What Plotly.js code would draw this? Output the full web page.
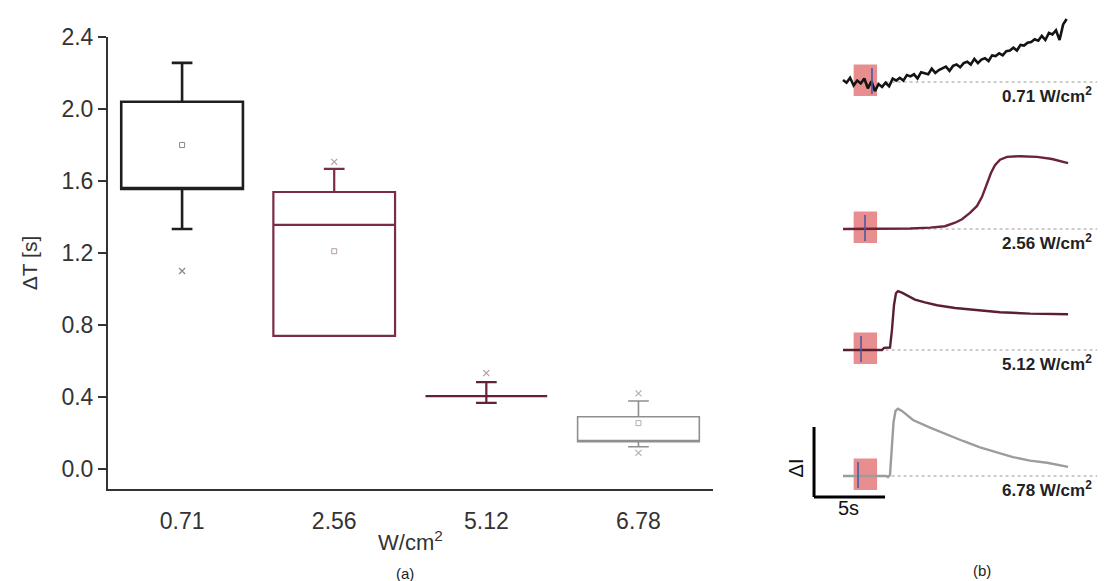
<!DOCTYPE html>
<html>
<head>
<meta charset="utf-8">
<script src="https://cdn.plot.ly/plotly-3.0.1.min.js"></script>
<style>
  html, body { margin: 0; padding: 0; background: #fff; }
  #chart { width: 1110px; height: 581px; }
</style>
</head>
<body>
<div id="chart"></div>
<script>
// ---- (a) response delay per irradiance (box statistics) ----
const categories   = ['0.71', '2.56', '5.12', '6.78'];
const q1           = [1.556, 0.740, 0.405, 0.152];
const medians      = [1.556, 1.356, 0.405, 0.152];
const q3           = [2.040, 1.539, 0.405, 0.290];
const lowerWhisker = [1.333, 0.748, 0.367, 0.124];
const upperWhisker = [2.256, 1.667, 0.483, 0.378];
const means        = [1.800, 1.210, null, 0.255];
const outlierCat   = ['0.71', '2.56', '5.12', '6.78', '6.78'];
const outlierVal   = [1.100, 1.706, 0.533, 0.420, 0.090];

// ---- (b) normalised photo-response traces (time in s, ΔI in scale-bar units) ----
const t1 = [0, 0.25, 0.5, 0.75, 1, 1.25, 1.5, 1.75, 2, 2.25, 2.5, 2.75, 3, 3.25, 3.5, 3.75,
            4, 4.25, 4.5, 4.75, 5, 5.25, 5.5, 5.75, 6, 6.25, 6.5, 6.75, 7, 7.25, 7.5, 7.75,
            8, 8.25, 8.5, 8.75, 9, 9.25, 9.5, 9.75, 10, 10.25, 10.5, 10.75, 11, 11.25, 11.5, 11.75,
            12, 12.25, 12.5, 12.75, 13, 13.25, 13.5, 13.75, 14, 14.25, 14.5, 14.75, 15, 15.25, 15.5, 15.75];
const v1 = [0.03, -0.01, 0.06, -0.05, 0.02, -0.02, 0.05, -0.09, 0.01, -0.13, -0.03, -0.07, -0.01, -0.06, 0.05, 0.02,
            0.06, 0.02, 0.10, 0.08, 0.11, 0.05, 0.14, 0.12, 0.11, 0.19, 0.13, 0.17, 0.20, 0.22, 0.16, 0.23,
            0.25, 0.21, 0.27, 0.29, 0.25, 0.33, 0.27, 0.32, 0.34, 0.30, 0.38, 0.37, 0.41, 0.38, 0.44, 0.45,
            0.49, 0.45, 0.53, 0.52, 0.56, 0.57, 0.61, 0.59, 0.66, 0.60, 0.70, 0.68, 0.74, 0.60, 0.82, 0.90];
const t2 = [0, 3.17, 4.72, 6.13, 7.18, 7.89, 8.38, 8.94, 9.44, 9.79, 10.14, 10.42, 10.70, 11.06, 11.55, 12.46, 13.66, 14.72, 15.85];
const v2 = [0, 0, 0.007, 0.02, 0.04, 0.09, 0.14, 0.23, 0.33, 0.46, 0.64, 0.80, 0.91, 0.99, 1.03, 1.04, 1.03, 1.00, 0.94];
const t3 = [0, 2.75, 2.89, 3.31, 3.45, 3.59, 3.73, 3.87, 4.15, 4.58, 5.07, 5.77, 6.62, 7.89, 9.30, 11.06, 13.17, 15.85];
const v3 = [0, 0, 0.03, 0.035, 0.29, 0.64, 0.81, 0.84, 0.82, 0.77, 0.72, 0.68, 0.64, 0.60, 0.57, 0.54, 0.52, 0.51];
const t4 = [0, 3.03, 3.17, 3.31, 3.45, 3.56, 3.70, 3.87, 4.15, 4.93, 6.13, 7.32, 8.45, 9.65, 10.85, 11.97, 13.17, 14.37, 15.85];
const v4 = [0, 0, -0.014, 0.014, 0.44, 0.77, 0.93, 0.96, 0.93, 0.80, 0.69, 0.59, 0.50, 0.41, 0.34, 0.27, 0.22, 0.19, 0.13];
const stimWindow = [0.75, 2.4];          // illumination window, s
const stimMark   = [2.04, 1.55, 1.27, 1.06];
const scaleBarSeconds = 5;

const boxColors   = ['#1e1e1e', '#7a2b45', '#652236', '#8f8f8f'];
const boxWidths   = [2.6, 2.2, 2.2, 1.6];
const meanColors  = ['#8a8a8a', '#b79aa4', '#b79aa4', '#b0b0b0'];
const traceColors = ['#141414', '#6b2338', '#5a2031', '#9c9c9c'];

const FONT = 'Liberation Sans, Arial, sans-serif';
const data = [];

categories.forEach((c, i) => {
  data.push({
    type: 'box', x: [c], q1: [q1[i]], median: [medians[i]], q3: [q3[i]],
    lowerfence: [lowerWhisker[i]], upperfence: [upperWhisker[i]],
    width: 0.8, whiskerwidth: 0.17, boxpoints: false,
    line: {color: boxColors[i], width: boxWidths[i]},
    fillcolor: 'rgba(0,0,0,0)', showlegend: false, hoverinfo: 'skip',
    xaxis: 'x', yaxis: 'y'
  });
});

// mean markers
data.push({
  type: 'scatter', mode: 'markers', x: categories, y: means,
  marker: {symbol: 'square-open', size: 5, color: meanColors, line: {width: 1}},
  showlegend: false, hoverinfo: 'skip', xaxis: 'x', yaxis: 'y'
});
// outliers
const catIndex = c => categories.indexOf(c);
data.push({
  type: 'scatter', mode: 'markers', x: outlierCat, y: outlierVal,
  marker: {symbol: 'x-thin-open', size: 6,
           color: outlierCat.map(c => meanColors[catIndex(c)]),
           line: {width: 1.2, color: outlierCat.map(c => meanColors[catIndex(c)])}},
  showlegend: false, hoverinfo: 'skip', xaxis: 'x', yaxis: 'y'
});

// panel (b) traces, one stacked subplot each
const traceT = [t1, t2, t3, t4];
const traceV = [v1, v2, v3, v4];
const yNames = ['y2', 'y3', 'y4', 'y5'];
traceT.forEach((t, i) => {
  data.push({
    type: 'scatter', mode: 'lines', x: t, y: traceV[i],
    line: {color: traceColors[i], width: i === 0 ? 2.6 : 2.4},
    showlegend: false, hoverinfo: 'skip', xaxis: 'x2', yaxis: yNames[i]
  });
});

// layout geometry
const W = 1110, H = 581;
const panelBaselines = [82, 229, 350, 476];   // px of each trace's zero line
const pxPerUnit = 70, pxPerSec = 14.2, tZeroPx = 843;
const yRangeB = [-40 / pxPerUnit, 80 / pxPerUnit];

const shapes = [];
const annotations = [];
yNames.forEach((yn, i) => {
  // illumination window
  shapes.push({type: 'rect', xref: 'x2', yref: yn, layer: 'below',
    x0: stimWindow[0], x1: stimWindow[1], y0: -0.2, y1: 0.25,
    fillcolor: 'rgba(224,104,104,0.75)', line: {width: 0}});
  shapes.push({type: 'line', xref: 'x2', yref: yn, layer: 'above',
    x0: stimMark[i], x1: stimMark[i], y0: -0.17, y1: 0.2,
    line: {color: '#4b5aa6', width: 1.6}});
  // dotted baseline
  shapes.push({type: 'line', xref: 'x2', yref: yn, layer: 'below',
    x0: 3.0, x1: 17.9, y0: 0, y1: 0,
    line: {color: '#9a9a9a', width: 1, dash: 'dot'}});
  annotations.push({xref: 'x2', yref: yn, x: 17.65, y: -0.19,
    xanchor: 'right', yanchor: 'middle', showarrow: false,
    text: '<b>' + categories[i] + ' W/cm<sup>2</sup></b>',
    font: {family: FONT, size: 17, color: '#222'}});
});
// scale bar (5 s × 1 ΔI unit)
const sbX0 = -2.04, sbY0 = -0.30;
shapes.push({type: 'line', xref: 'x2', yref: 'y5', x0: sbX0, x1: sbX0, y0: sbY0, y1: sbY0 + 1,
  line: {color: '#000', width: 3}});
shapes.push({type: 'line', xref: 'x2', yref: 'y5', x0: sbX0, x1: sbX0 + scaleBarSeconds, y0: sbY0, y1: sbY0,
  line: {color: '#000', width: 3}});
annotations.push({xref: 'x2', yref: 'y5', x: -3.3, y: 0.11, textangle: -90, showarrow: false,
  text: 'ΔI', font: {family: FONT, size: 20, color: '#111'}});
annotations.push({xref: 'x2', yref: 'y5', x: sbX0 + scaleBarSeconds / 2 - 0.1, y: -0.45, showarrow: false,
  text: scaleBarSeconds + 's', font: {family: FONT, size: 20, color: '#111'}});
annotations.push({xref: 'paper', yref: 'paper', x: 405 / W, y: 1 - 573 / H, yanchor: 'middle', showarrow: false,
  text: '(a)', font: {family: FONT, size: 15, color: '#222'}});
annotations.push({xref: 'paper', yref: 'paper', x: 993 / W, y: 1 - 570 / H, yanchor: 'middle', showarrow: false,
  text: '(b)', font: {family: FONT, size: 15, color: '#222'}});

const yDomain = b => [1 - (b + 40) / H, 1 - (b - 80) / H];
const bAxis = (i) => ({
  domain: yDomain(panelBaselines[i]), range: yRangeB, anchor: 'x2',
  visible: false, fixedrange: true
});

const layout = {
  width: W, height: H,
  margin: {l: 0, r: 0, t: 0, b: 0},
  paper_bgcolor: '#fff', plot_bgcolor: 'rgba(0,0,0,0)',
  font: {family: FONT, color: '#333'},
  boxmode: 'overlay',
  xaxis: {
    domain: [108 / W, 713 / W], type: 'category', categoryorder: 'array',
    categoryarray: categories, range: [-0.487, 3.49],
    showline: true, linecolor: '#333', linewidth: 2, mirror: false,
    showgrid: false, zeroline: false,
    ticks: 'outside', ticklen: 10, tickcolor: 'rgba(0,0,0,0)',
    tickfont: {family: FONT, size: 23, color: '#333'},
    title: {text: 'W/cm<sup>2</sup>', font: {family: FONT, size: 22, color: '#333'}, standoff: 2},
    anchor: 'y'
  },
  yaxis: {
    domain: [1 - 489 / H, 1 - 37 / H], range: [-0.111, 2.4],
    tickvals: [0, 0.4, 0.8, 1.2, 1.6, 2.0, 2.4], tickformat: '.1f',
    showline: true, linecolor: '#333', linewidth: 2,
    showgrid: false, zeroline: false,
    ticks: 'outside', ticklen: 8, tickwidth: 2, tickcolor: '#333',
    tickfont: {family: FONT, size: 23, color: '#333'},
    title: {text: 'ΔT [s]', font: {family: FONT, size: 21, color: '#333'}, standoff: 18},
    anchor: 'x'
  },
  xaxis2: {
    domain: [770 / W, 1], range: [(770 - tZeroPx) / pxPerSec, (W - tZeroPx) / pxPerSec],
    anchor: 'y5', visible: false, fixedrange: true
  },
  yaxis2: bAxis(0), yaxis3: bAxis(1), yaxis4: bAxis(2), yaxis5: bAxis(3),
  shapes: shapes,
  annotations: annotations
};

Plotly.newPlot('chart', data, layout, {displayModeBar: false, staticPlot: true});
</script>
</body>
</html>
